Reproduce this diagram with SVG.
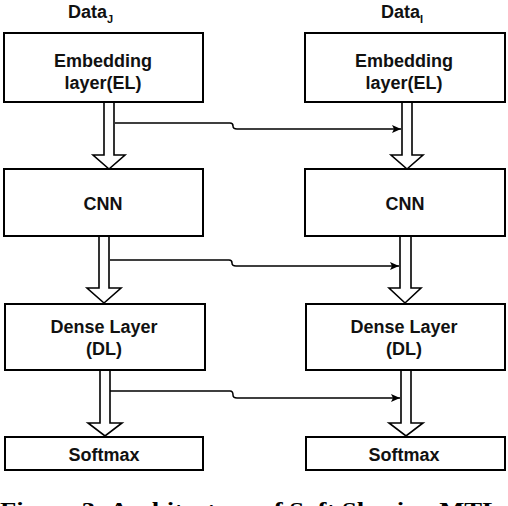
<svg xmlns="http://www.w3.org/2000/svg" width="508" height="506" viewBox="0 0 508 506">
<style>
.box{fill:#fff;stroke:#000;stroke-width:2}
.blk{fill:#fff;stroke:#000;stroke-width:1.6;stroke-linejoin:miter}
.t{font-family:"Liberation Sans",Arial,sans-serif;font-weight:bold;font-size:18px;fill:#111;text-anchor:middle}
.ttl{font-family:"Liberation Sans",Arial,sans-serif;font-weight:bold;font-size:18px;fill:#111}
.sub{font-size:11px}
.con{fill:none;stroke:#000;stroke-width:1.5}
.cap{font-family:"Liberation Serif","Times New Roman",serif;font-weight:bold;font-size:22px;fill:#000}
</style>
<defs>
<marker id="ah" markerWidth="10" markerHeight="8" refX="9" refY="4" orient="auto" markerUnits="userSpaceOnUse">
<path d="M0,0 L9,4 L0,8 L2,4 Z" fill="#000"/>
</marker>
</defs>
<rect width="508" height="506" fill="#fff"/>

<g id="title-j"><text class="ttl" x="68" y="18">Data<tspan class="sub" dy="5">J</tspan></text></g>
<g id="title-i"><text class="ttl" x="381" y="18">Data<tspan class="sub" dy="5">I</tspan></text></g>

<g id="connectors">
<path class="blk" d="M104,102 V155 H93 L109,169 L125,155 H114 V102"/>
<path class="blk" d="M99,236 V288 H87 L104,303 L121,288 H109 V236"/>
<path class="blk" d="M100,370 V423 H88 L105,436 L122,423 H110 V370"/>
<path class="blk" d="M402,102 V155 H391 L407,169 L423,155 H412 V102"/>
<path class="blk" d="M400,236 V288 H389 L405,303 L421,288 H411 V236"/>
<path class="blk" d="M401,370 V423 H389 L406,436 L423,423 H411 V370"/>
<path class="con" d="M115,123 H230 Q233,123 233,126 Q233,129 237,129 H401" marker-end="url(#ah)"/>
<path class="con" d="M110,260 H229 Q232,260 232,263 Q232,266 236,266 H399" marker-end="url(#ah)"/>
<path class="con" d="M110,391 H230 Q233,391 233,395 Q233,398 237,398 H400" marker-end="url(#ah)"/>
</g>

<g id="el-j"><rect class="box" x="4" y="33" width="199" height="69"/><text class="t" x="103" y="67">Embedding</text><text class="t" x="103" y="89">layer(EL)</text></g>
<g id="el-i"><rect class="box" x="305" y="33" width="200" height="69"/><text class="t" x="404" y="67">Embedding</text><text class="t" x="404" y="89">layer(EL)</text></g>
<g id="cnn-j"><rect class="box" x="4" y="169" width="199" height="67"/><text class="t" x="103" y="210">CNN</text></g>
<g id="cnn-i"><rect class="box" x="305" y="169" width="200" height="67"/><text class="t" x="405" y="210">CNN</text></g>
<g id="dl-j"><rect class="box" x="5" y="304" width="200" height="66"/><text class="t" x="104" y="333">Dense Layer</text><text class="t" x="104" y="355">(DL)</text></g>
<g id="dl-i"><rect class="box" x="306" y="304" width="199" height="66"/><text class="t" x="404" y="333">Dense Layer</text><text class="t" x="404" y="355">(DL)</text></g>
<g id="sm-j"><rect class="box" x="5" y="437" width="198" height="33"/><text class="t" x="104" y="461">Softmax</text></g>
<g id="sm-i"><rect class="box" x="306" y="437" width="199" height="33"/><text class="t" x="404" y="461">Softmax</text></g>

<text class="cap" x="0" y="517" textLength="500" lengthAdjust="spacingAndGlyphs">Figure 3: Architecture of Soft Sharing MTL</text>
</svg>
